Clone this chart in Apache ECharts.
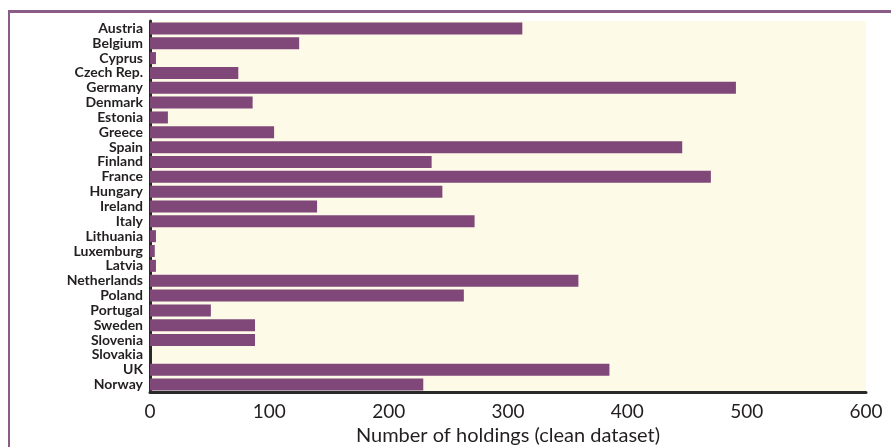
<!DOCTYPE html>
<html lang="en">

<head>
  <meta charset="UTF-8">
  <title>Number of holdings by country</title>
  <script src="https://cdn.jsdelivr.net/npm/echarts@6/dist/echarts.min.js"></script>
  <style>
    * {
      margin: 0;
      padding: 0;
      box-sizing: border-box;
    }

    body {
      width: 891px;
      height: 447px;
      background: #fff;
      position: relative;
      overflow: hidden;
    }

    .frame {
      position: absolute;
      left: 8px;
      top: 10px;
      width: 900px;
      height: 460px;
      border-top: 3px solid #8a5c88;
      border-left: 2px solid #8a5c88;
    }

    #chart {
      position: absolute;
      left: 0;
      top: 0;
      width: 891px;
      height: 447px;
    }
  </style>
</head>

<body>
  <div class="frame"></div>
  <div id="chart"></div>

  <script>
    const countries = ['Austria', 'Belgium', 'Cyprus', 'Czech Rep.', 'Germany', 'Denmark', 'Estonia',
      'Greece', 'Spain', 'Finland', 'France', 'Hungary', 'Ireland', 'Italy', 'Lithuania',
      'Luxemburg', 'Latvia', 'Netherlands', 'Poland', 'Portugal', 'Sweden', 'Slovenia',
      'Slovakia', 'UK', 'Norway'];
    const holdings = [312, 125, 5, 74, 491, 86, 15, 104, 446, 236, 470, 245, 140, 272, 5,
      4, 5, 359, 263, 51, 88, 88, 0, 385, 229];
    const xTicks = [0, 100, 200, 300, 400, 500, 600];

    const textColor = '#231f20';
    const myChart = echarts.init(document.getElementById('chart'));

    const option = {
      animation: false,
      grid: {
        left: 150,
        right: 25,
        top: 21,
        bottom: 55,
        outerBoundsMode: 'none',
        show: true,
        backgroundColor: '#fefae8',
        borderWidth: 0
      },
      xAxis: {
        type: 'value',
        min: xTicks[0],
        max: xTicks[xTicks.length - 1],
        interval: 100,
        name: 'Number of holdings (clean dataset)',
        nameLocation: 'middle',
        nameGap: 29,
        nameTextStyle: { fontFamily: 'Lato', fontSize: 20, color: textColor },
        axisLine: { show: true, lineStyle: { color: '#2a2a2a', width: 3 } },
        axisTick: { show: false },
        splitLine: { show: false },
        axisLabel: { fontFamily: 'Lato', fontSize: 19, color: textColor, margin: 10 }
      },
      yAxis: {
        type: 'category',
        data: countries,
        inverse: true,
        axisLine: { show: true, lineStyle: { color: '#2a2a2a', width: 3 } },
        axisTick: { show: false },
        axisLabel: {
          fontFamily: 'Lato', fontSize: 14, fontWeight: 'bold', color: textColor,
          margin: 7, interval: 0
        }
      },
      series: [{
        type: 'bar',
        data: holdings,
        barWidth: 12,
        itemStyle: { color: '#7f4878' }
      }]
    };

    myChart.setOption(option);
  </script>
</body>

</html>
